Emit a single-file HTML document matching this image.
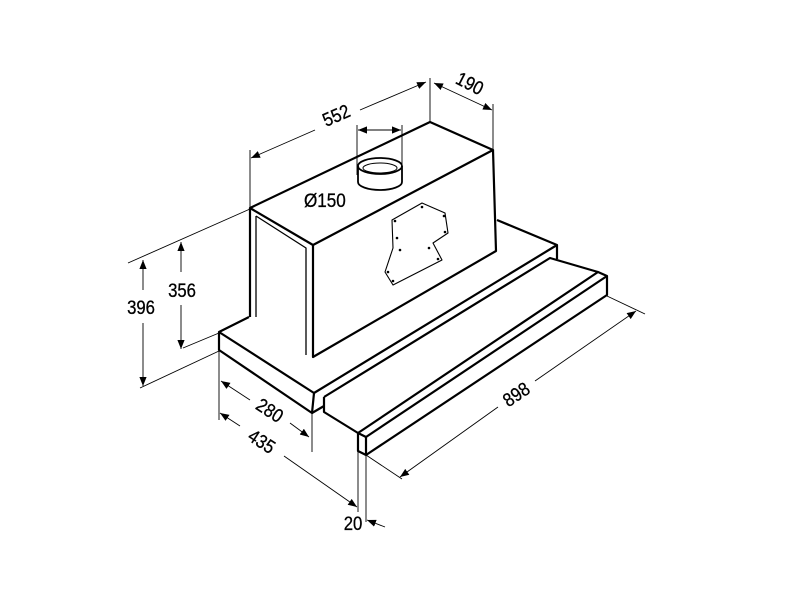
<!DOCTYPE html>
<html><head><meta charset="utf-8"><style>
html,body{margin:0;padding:0;background:#fff;}
svg{display:block}
text{font-family:"Liberation Sans",Arial,sans-serif;font-size:19px;fill:#000;font-weight:normal;stroke:#000;stroke-width:0.3}
</style></head><body>
<svg width="800" height="600" viewBox="0 0 800 600" xmlns="http://www.w3.org/2000/svg">
<defs>
<marker id="a" viewBox="0 0 10 10" refX="10" refY="5" markerWidth="9" markerHeight="9" orient="auto-start-reverse" markerUnits="userSpaceOnUse"><path d="M0,1 L10,5 L0,9 z" fill="#000"/></marker>
</defs>
<g fill="none" stroke="#000" stroke-linejoin="round">
<g stroke-width="2.2">
<polyline points="249,317 219,332 219,350 312,413 314,393 219,332"/>
<polyline points="497,220 557,245 557,259"/>
<line x1="314" y1="393" x2="557" y2="245"/>
<line x1="312" y1="413" x2="324" y2="406"/>
<polyline points="324,397 550,258 598,272"/>
<polyline points="324,397 324,412 358,433"/>
<polyline points="358,433 598,272 607,276 607,295 366,455 358,451 358,433"/>
<line x1="358" y1="433" x2="366" y2="437"/>
<line x1="366" y1="437" x2="607" y2="276"/>
<line x1="366" y1="437" x2="366" y2="455"/>
<polygon points="250,208 430,122 493,150 313,245"/>
<polyline points="250,208 250,317"/>
<polyline points="313,245 313,357 496,251 493,150"/>
</g>
<g stroke-width="1.3">
<polyline points="256,216 256,317"/>
<polyline points="256,216 306,248 306,355"/>
</g>
<g stroke-width="1.8">
<ellipse cx="380" cy="166" rx="22" ry="8" fill="#fff"/>
<path d="M358,166 L358,182 A22,8 0 0 0 402,182 L402,166"/>
<ellipse cx="380" cy="168" rx="17" ry="5" stroke-width="1"/>
</g>
<polygon stroke-width="1.1" points="422,203 445,213 448,233 433,243 442,260 393,285 385,272 393,248 392,220"/>
</g>
<g fill="#000">
<circle cx="422" cy="207" r="1.3"/><circle cx="444" cy="216" r="1.3"/><circle cx="445" cy="232" r="1.3"/>
<circle cx="395" cy="221" r="1.3"/><circle cx="397" cy="238" r="1.3"/><circle cx="400" cy="250" r="1.3"/>
<circle cx="429" cy="248" r="1.3"/><circle cx="438" cy="259" r="1.3"/><circle cx="388" cy="272" r="1.3"/><circle cx="393" cy="281" r="1.3"/>
</g>
<g fill="none" stroke="#000" stroke-width="0.9">
<line x1="250" y1="150" x2="250" y2="208"/>
<line x1="430" y1="78" x2="430" y2="122"/>
<line x1="493" y1="104" x2="493" y2="150"/>
<line x1="251" y1="158" x2="315" y2="130" marker-start="url(#a)"/>
<line x1="360" y1="110" x2="426" y2="82" marker-end="url(#a)"/>
<line x1="434" y1="83" x2="492" y2="110" marker-start="url(#a)" marker-end="url(#a)"/>
<line x1="357" y1="125" x2="357" y2="175"/>
<line x1="402" y1="125" x2="402" y2="175"/>
<line x1="358" y1="130" x2="401" y2="130" marker-start="url(#a)" marker-end="url(#a)"/>
<line x1="128" y1="263" x2="250" y2="209"/>
<line x1="140" y1="388" x2="219" y2="351"/>
<line x1="183" y1="348" x2="219" y2="333"/>
<line x1="143" y1="260" x2="143" y2="290" marker-start="url(#a)"/>
<line x1="143" y1="323" x2="143" y2="386" marker-end="url(#a)"/>
<line x1="181" y1="242" x2="181" y2="272" marker-start="url(#a)"/>
<line x1="181" y1="305" x2="181" y2="349" marker-end="url(#a)"/>
<line x1="219" y1="351" x2="219" y2="420"/>
<line x1="312" y1="413" x2="312" y2="452"/>
<line x1="221" y1="381" x2="250" y2="400" marker-start="url(#a)"/>
<line x1="290" y1="423" x2="309" y2="437" marker-end="url(#a)"/>
<line x1="220" y1="413" x2="240" y2="426" marker-start="url(#a)"/>
<line x1="284" y1="456" x2="357" y2="507" marker-end="url(#a)"/>
<line x1="358" y1="451" x2="358" y2="512"/>
<line x1="366" y1="455" x2="366" y2="522"/>
<line x1="385" y1="527" x2="367" y2="520" marker-end="url(#a)"/>
<line x1="607" y1="296" x2="645" y2="314"/>
<line x1="366" y1="455" x2="402" y2="479"/>
<line x1="400" y1="477" x2="498" y2="407" marker-start="url(#a)"/>
<line x1="535" y1="381" x2="636" y2="311" marker-end="url(#a)"/>
</g>
<g>
<text transform="translate(336,115) rotate(-24) scale(0.88,1)" x="0" y="7" text-anchor="middle">552</text>
<text transform="translate(470,83) rotate(27) scale(0.88,1)" x="0" y="7" text-anchor="middle">190</text>
<text transform="translate(304,207) scale(0.9,1)" x="0" y="0" font-size="20">Ø150</text>
<text transform="translate(141,314) scale(0.88,1)" x="0" y="0" text-anchor="middle">396</text>
<text transform="translate(182,297) scale(0.88,1)" x="0" y="0" text-anchor="middle">356</text>
<text transform="translate(270,410) rotate(33) scale(0.88,1)" x="0" y="7" text-anchor="middle">280</text>
<text transform="translate(262,441) rotate(33) scale(0.88,1)" x="0" y="7" text-anchor="middle">435</text>
<text transform="translate(516,394) rotate(-34) scale(0.88,1)" x="0" y="7" text-anchor="middle">898</text>
<text transform="translate(353,530) scale(0.88,1)" x="0" y="0" text-anchor="middle">20</text>
</g>
</svg>
</body></html>
